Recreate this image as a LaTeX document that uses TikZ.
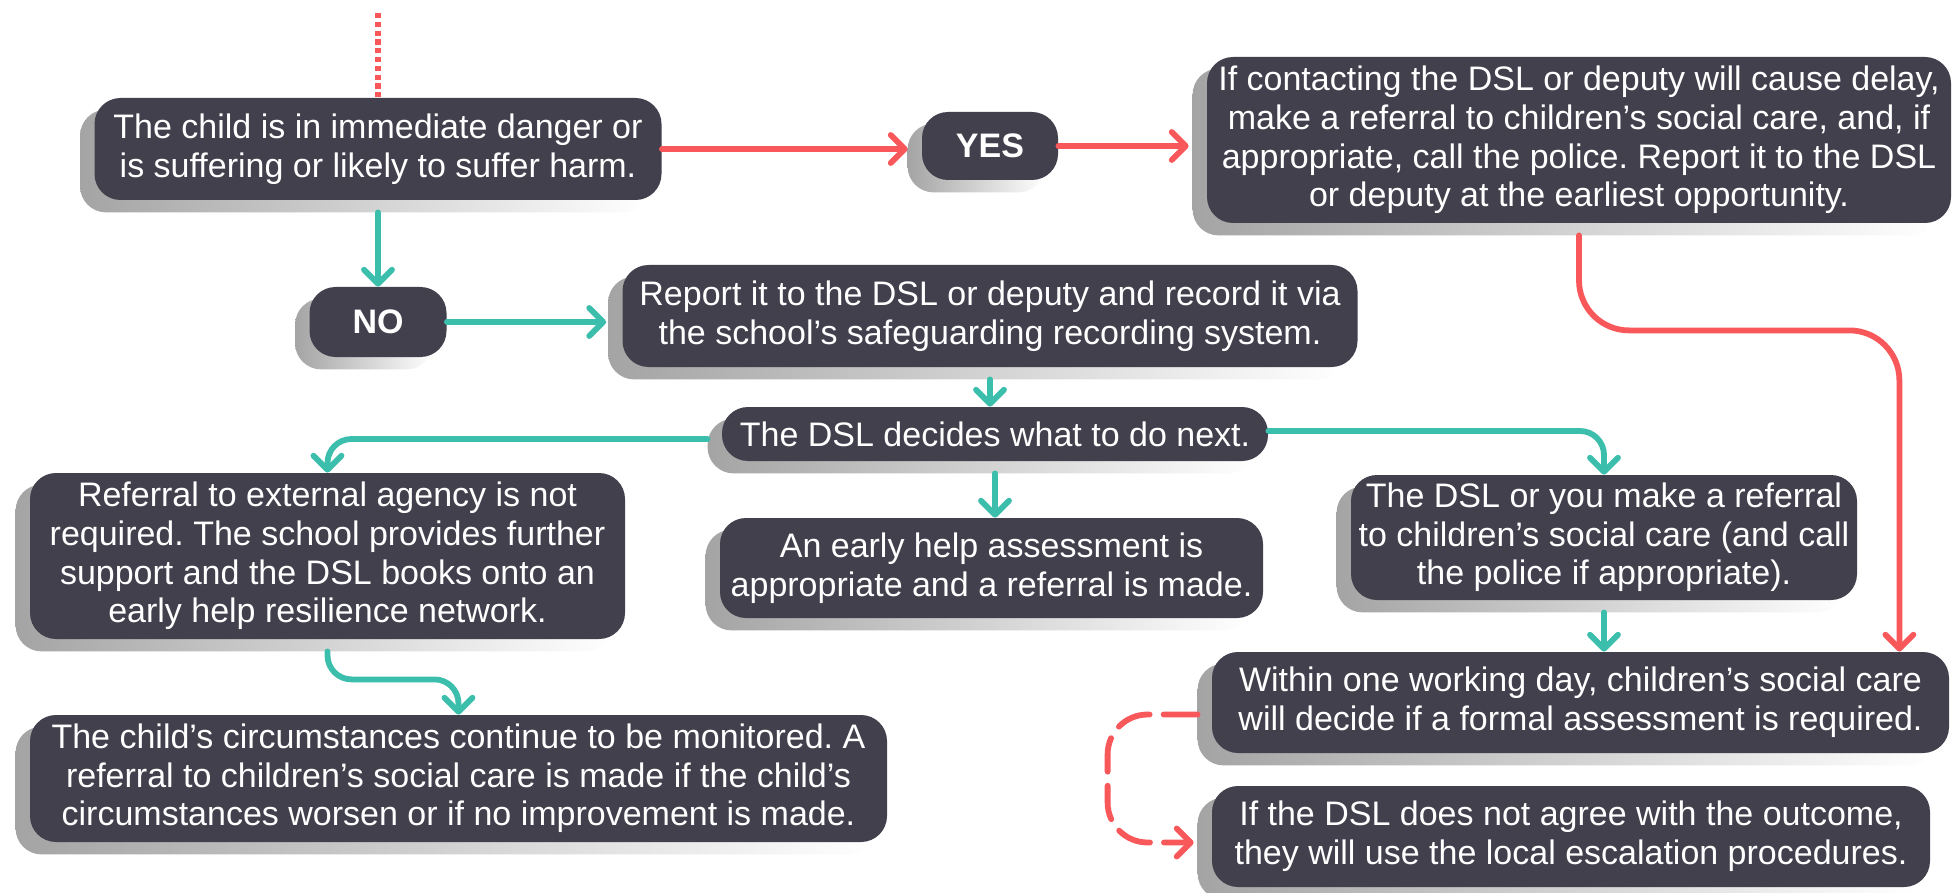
\documentclass[tikz,border=0pt]{standalone}
\usepackage{fontspec}
\setmainfont{Liberation Sans}
\frenchspacing
\usetikzlibrary{arrows.meta,backgrounds,calc}
\definecolor{boxfill}{HTML}{41404C}
\definecolor{cred}{HTML}{F9585A}
\definecolor{cteal}{HTML}{3CBEAC}
\definecolor{shadowgray}{HTML}{A4A4A4}
\begin{document}
\begin{tikzpicture}[x=0.5pt,y=-0.5pt,
  box/.style={fill=boxfill, rounded corners=13pt, text=white, align=center, inner sep=0pt,
    font=\fontsize{17}{19.3}\selectfont},
  lbl/.style={box, font=\fontsize{17}{19.3}\selectfont\bfseries},
  conn/.style={line width=2.9pt, line cap=round, rounded corners=12pt,
    -{Straight Barb[length=7pt,width=14pt,round]}},
  tealc/.style={conn, draw=cteal},
  redc/.style={conn, draw=cred},
  shadowbox/.style={left color=shadowgray, right color=white, rounded corners=13pt}
]
\useasboundingbox (0,0) rectangle (1959,893);

\node[box, minimum width=283.5pt, minimum height=51pt] (A) at (378,149)
  {The child is in immediate danger or\\is suffering or likely to suffer harm.};
\node[lbl, minimum width=68pt, minimum height=34pt] (yes) at (990,146) {YES};
\node[box, minimum width=372pt, minimum height=83pt] (B) at (1579,140)
  {If contacting the DSL or deputy will cause delay,\\make a referral to children’s social care, and, if\\appropriate, call the police. Report it to the DSL\\or deputy at the earliest opportunity.};
\node[lbl, minimum width=68.5pt, minimum height=35pt] (NO) at (378,322) {NO};
\node[box, minimum width=367.5pt, minimum height=51pt] (C) at (990,316)
  {Report it to the DSL or deputy and record it via\\the school’s safeguarding recording system.};
\node[box, minimum width=273pt, minimum height=27pt] (DSL) at (995,434)
  {The DSL decides what to do next.};
\node[box, minimum width=297.5pt, minimum height=83pt] (D) at (327.5,556)
  {Referral to external agency is not\\required. The school provides further\\support and the DSL books onto an\\early help resilience network.};
\node[box, minimum width=271.5pt, minimum height=50pt] (E) at (991.5,568)
  {An early help assessment is\\appropriate and a referral is made.};
\node[box, minimum width=253pt, minimum height=62.5pt] (F) at (1604,537.5)
  {The DSL or you make a referral\\to children’s social care (and call\\the police if appropriate).};
\node[box, minimum width=428.5pt, minimum height=63.5pt] (G) at (458.5,778.5)
  {The child’s circumstances continue to be monitored. A\\referral to children’s social care is made if the child’s\\circumstances worsen or if no improvement is made.};
\node[box, minimum width=368.5pt, minimum height=50.5pt] (H) at (1580.5,702.5)
  {Within one working day, children’s social care\\will decide if a formal assessment is required.};
\node[box, minimum width=359pt, minimum height=50.5pt] (I) at (1571,836.5)
  {If the DSL does not agree with the outcome,\\they will use the local escalation procedures.};

\begin{pgfonlayer}{background}
  \fill[white] (0,0) rectangle (1959,893);
  \foreach \n in {A,yes,B,NO,C,DSL,D,E,F,G,H,I}
    \shade[shadowbox] ($(\n.south west)+(-14,12)$) rectangle ($(\n.north east)+(-14,12)$);
\end{pgfonlayer}

\coordinate (top) at (378,13);
\draw[cred, line width=3.2pt, dash pattern=on 2.6pt off 1.8pt] (top) -- (A.north);
\draw[redc] (A.east) -- ([xshift=-7pt]A.east -| yes.west);
\draw[redc] (yes.east) -- ([xshift=-9pt]yes.east -| B.west);
\draw[redc, rounded corners=25pt] ([yshift=-6pt]B.south) -- ++(0,95) -| ($(H.north east)+(-50,0)$);
\draw[tealc] ([yshift=-6pt]A.south) -- (NO.north);
\draw[tealc] (NO.east) -- ([xshift=-8pt]NO.east -| C.west);
\draw[tealc] ([yshift=-6pt]C.south) -- (C.south |- DSL.north);
\draw[tealc] ([shift={(-7pt,-2.5pt)}]DSL.west) -| (D.north);
\draw[tealc] ([yshift=1.5pt]DSL.east) -| (F.north);
\draw[tealc] ([yshift=-6pt]DSL.south) -- (DSL.south |- E.north);
\draw[tealc] ([yshift=-6pt]D.south) -- ++(0,28) -| (G.north);
\draw[tealc] ([yshift=-6pt]F.south) -- (F.south |- H.north);
\draw[redc, dash pattern=on 17pt off 7pt, rounded corners=20pt]
  ([shift={(-7pt,-6pt)}]H.west) -- ++(-90,0) |- ([shift={(-9pt,-3pt)}]I.west);
\end{tikzpicture}
\end{document}
